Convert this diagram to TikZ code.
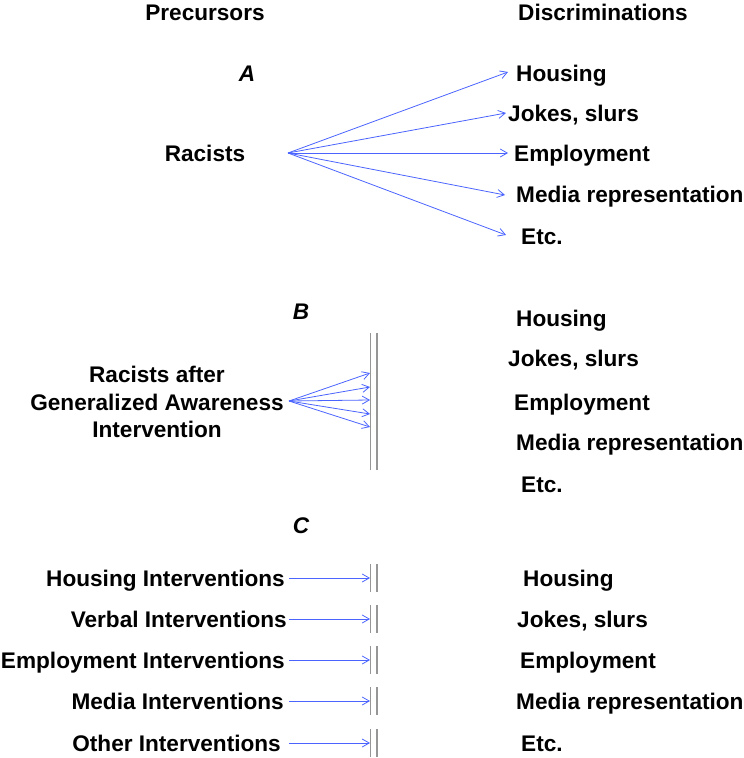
\documentclass[tikz,border=0pt]{standalone}
\usepackage{fontspec}
\setmainfont{Liberation Sans}
\usetikzlibrary{arrows.meta}
\definecolor{arrblue}{RGB}{75,100,255}
\definecolor{bargray}{RGB}{150,150,150}
\tikzset{
  lbl/.style={font=\fontsize{22.6}{27.5}\selectfont\bfseries, inner sep=0pt},
  lw/.style={lbl, anchor=base west},
  le/.style={lbl, anchor=base east},
  lc/.style={lbl, anchor=base},
  arr/.style={draw=arrblue, line width=0.8pt, -{Straight Barb[length=7pt,width=8pt]}},
  bar/.style={draw=bargray, line width=1.4pt},
}
\begin{document}
\begin{tikzpicture}[x=1pt,y=-1pt]
\useasboundingbox (0,0) rectangle (744,758);
% headers
\node[lc] (hp) at (205,20) {Precursors};
\node[lc] (hd) at (603,20) {Discriminations};
\node[lc, font=\fontsize{22.6}{27.5}\selectfont\bfseries\itshape] (la) at (247,81) {A};
\node[lc, font=\fontsize{22.6}{27.5}\selectfont\bfseries\itshape] (lb) at (301,319) {B};
\node[lc, font=\fontsize{22.6}{27.5}\selectfont\bfseries\itshape] (lcc) at (301,533) {C};
% ---- A ----
\node[lc] (racA) at (205,161) {Racists};
\coordinate (sA) at (288,153);
\node[lw] (a1) at (516,81) {Housing};
\node[lw] (a2) at (508,121) {Jokes, slurs};
\node[lw] (a3) at (514,161) {Employment};
\node[lw] (a4) at (516,202) {Media representation};
\node[lw] (a5) at (521,244) {Etc.};
\coordinate (ta1) at (508,72);
\coordinate (ta2) at (506,113);
\coordinate (ta3) at (508,153);
\coordinate (ta4) at (505,195);
\coordinate (ta5) at (506,235);
\foreach \t in {ta1,ta2,ta3,ta4,ta5} \draw[arr] (sA) -- (\t);
% ---- B ----
\node[lbl, align=center, anchor=center] (racB) at (157,402) {Racists after\\Generalized Awareness\\Intervention};
\coordinate (sB) at (289,401);
\coordinate (bt1) at (370,373);
\coordinate (bt2) at (370,387);
\coordinate (bt3) at (370,400);
\coordinate (bt4) at (370,414);
\coordinate (bt5) at (370,427);
\foreach \t in {bt1,bt2,bt3,bt4,bt5} \draw[arr] (sB) -- (\t);
\coordinate (wb1t) at (370.5,333); \coordinate (wb1b) at (370.5,470);
\coordinate (wb2t) at (377,333); \coordinate (wb2b) at (377,470);
\draw[bar] (wb1t) -- (wb1b);
\draw[bar] (wb2t) -- (wb2b);
\node[lw] (b1) at (516,326) {Housing};
\node[lw] (b2) at (508,366) {Jokes, slurs};
\node[lw] (b3) at (514,410) {Employment};
\node[lw] (b4) at (516,450) {Media representation};
\node[lw] (b5) at (521,492) {Etc.};
% ---- C ----
\foreach \n/\y/\xe/\txt/\xr/\rtxt in {
  1/578/285/Housing Interventions/523/Housing,
  2/619/287/Verbal Interventions/517/{Jokes, slurs},
  3/660/285/Employment Interventions/520/Employment,
  4/701/284/Media Interventions/516/Media representation,
  5/743/281/Other Interventions/521/Etc.}{
  \node[le] (ci\n) at (\xe,\y+8) {\txt};
  \node[lw] (cd\n) at (\xr,\y+8) {\rtxt};
  \coordinate (cs\n) at (289,\y);
  \coordinate (ct\n) at (370,\y);
  \draw[arr] (cs\n) -- (ct\n);
  \coordinate (cb1t\n) at (370.5,\y-14); \coordinate (cb1b\n) at (370.5,\y+14);
  \coordinate (cb2t\n) at (377,\y-14); \coordinate (cb2b\n) at (377,\y+14);
  \draw[bar] (cb1t\n) -- (cb1b\n);
  \draw[bar] (cb2t\n) -- (cb2b\n);
}
\end{tikzpicture}
\end{document}
